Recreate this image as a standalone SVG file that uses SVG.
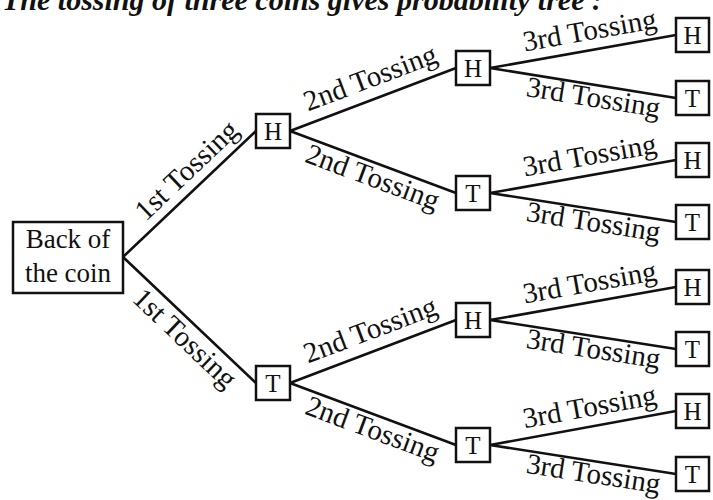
<svg xmlns="http://www.w3.org/2000/svg" width="713" height="500" viewBox="0 0 713 500">
<style>
.bg{fill:#fff}
.box{fill:#fff;stroke:#111;stroke-width:2.5}
.conn line{stroke:#111;stroke-width:2.6;stroke-linecap:round}
.nt{font-family:"Liberation Serif","Times New Roman",serif;font-size:25px;fill:#111;text-anchor:middle}
.rt{font-family:"Liberation Serif","Times New Roman",serif;font-size:27px;fill:#111;text-anchor:middle}
.lb{font-family:"Liberation Serif","Times New Roman",serif;font-size:29px;fill:#111;text-anchor:middle}
.title{font-family:"Liberation Serif","Times New Roman",serif;font-size:30px;font-weight:bold;font-style:italic;fill:#111}
</style>
<rect class="bg" x="0" y="0" width="713" height="500"/>
<text class="title" x="2" y="10">The tossing of three coins gives probability tree :</text>

<g id="connectors" class="conn">
  <line x1="123" y1="257" x2="256" y2="131"/>
  <line x1="123" y1="257" x2="256" y2="383"/>
  <line x1="290" y1="131" x2="456" y2="68"/>
  <line x1="290" y1="131" x2="456" y2="193"/>
  <line x1="290" y1="383" x2="456" y2="320"/>
  <line x1="290" y1="383" x2="456" y2="445"/>
  <line x1="490" y1="68" x2="676" y2="35"/>
  <line x1="490" y1="68" x2="676" y2="98"/>
  <line x1="490" y1="193" x2="676" y2="160"/>
  <line x1="490" y1="193" x2="676" y2="222"/>
  <line x1="490" y1="320" x2="676" y2="287"/>
  <line x1="490" y1="320" x2="676" y2="349"/>
  <line x1="490" y1="445" x2="676" y2="411"/>
  <line x1="490" y1="445" x2="676" y2="474"/>
</g>

<g id="labels">
  <text class="lb" transform="translate(199.7,184.3) rotate(-43.45)" y="-9.8">1st Tossing</text>
  <text class="lb" transform="translate(196.1,326.3) rotate(43.45)" y="25.8">1st Tossing</text>
  <text class="lb" transform="translate(377.8,97.7) rotate(-20.78)" y="-11.9">2nd Tossing</text>
  <text class="lb" transform="translate(377.7,163.7) rotate(20.48)" y="23.8">2nd Tossing</text>
  <text class="lb" transform="translate(377.8,349.7) rotate(-20.78)" y="-11.9">2nd Tossing</text>
  <text class="lb" transform="translate(377.7,415.7) rotate(20.48)" y="23.8">2nd Tossing</text>
  <text class="lb" transform="translate(593,49.7) rotate(-10.06)" y="-10.2">3rd Tossing</text>
  <text class="lb" transform="translate(595.4,85) rotate(9.16)" y="22">3rd Tossing</text>
  <text class="lb" transform="translate(593,174.7) rotate(-10.06)" y="-10.2">3rd Tossing</text>
  <text class="lb" transform="translate(595.4,209.4) rotate(8.87)" y="22">3rd Tossing</text>
  <text class="lb" transform="translate(593,301.7) rotate(-10.06)" y="-10.2">3rd Tossing</text>
  <text class="lb" transform="translate(595.4,336.4) rotate(8.87)" y="22">3rd Tossing</text>
  <text class="lb" transform="translate(593,426.1) rotate(-10.36)" y="-10.2">3rd Tossing</text>
  <text class="lb" transform="translate(595.4,461.4) rotate(8.87)" y="22">3rd Tossing</text>
</g>

<g id="root">
  <rect class="box" x="13" y="222" width="110" height="71"/>
  <text class="rt" x="68" y="248">Back of</text>
  <text class="rt" x="68" y="282">the coin</text>
</g>

<g id="n1H"><rect class="box" x="256" y="114" width="34" height="34"/><text class="nt" x="273" y="140">H</text></g>
<g id="n1T"><rect class="box" x="256" y="366" width="34" height="34"/><text class="nt" x="273" y="392">T</text></g>

<g id="n2HH"><rect class="box" x="456" y="51" width="34" height="34"/><text class="nt" x="473" y="77">H</text></g>
<g id="n2HT"><rect class="box" x="456" y="176" width="34" height="34"/><text class="nt" x="473" y="202">T</text></g>
<g id="n2TH"><rect class="box" x="456" y="303" width="34" height="34"/><text class="nt" x="473" y="329">H</text></g>
<g id="n2TT"><rect class="box" x="456" y="428" width="34" height="34"/><text class="nt" x="473" y="454">T</text></g>

<g id="n3HHH"><rect class="box" x="676" y="18" width="33" height="34"/><text class="nt" x="692.5" y="44">H</text></g>
<g id="n3HHT"><rect class="box" x="676" y="81" width="33" height="34"/><text class="nt" x="692.5" y="107">T</text></g>
<g id="n3HTH"><rect class="box" x="676" y="143" width="33" height="34"/><text class="nt" x="692.5" y="169">H</text></g>
<g id="n3HTT"><rect class="box" x="676" y="205" width="33" height="34"/><text class="nt" x="692.5" y="231">T</text></g>
<g id="n3THH"><rect class="box" x="676" y="270" width="33" height="34"/><text class="nt" x="692.5" y="296">H</text></g>
<g id="n3THT"><rect class="box" x="676" y="332" width="33" height="34"/><text class="nt" x="692.5" y="358">T</text></g>
<g id="n3TTH"><rect class="box" x="676" y="394" width="33" height="34"/><text class="nt" x="692.5" y="420">H</text></g>
<g id="n3TTT"><rect class="box" x="676" y="457" width="33" height="34"/><text class="nt" x="692.5" y="483">T</text></g>
</svg>
